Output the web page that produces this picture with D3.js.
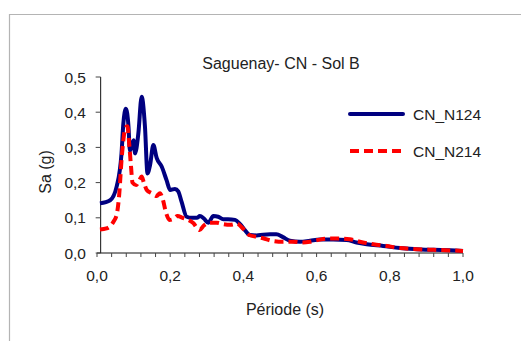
<!DOCTYPE html>
<html>
<head>
<meta charset="utf-8">
<script src="https://cdn.jsdelivr.net/npm/d3@7"></script>
<style>
    body { margin: 0; background: #fff; }
    svg text { font-family: "Liberation Sans", Arial, sans-serif; fill: #222; }
</style>
</head>
<body>
<svg id="chart" width="521" height="341"></svg>
<script>

// ---------------------------
// DATA
// ---------------------------

const title = "Saguenay- CN - Sol B";
const seriesNames = ["CN_N124", "CN_N214"];

// CN_N124 (solid navy)
const periodN124 = [0.008, 0.036, 0.054, 0.067, 0.072, 0.079, 0.086, 0.09, 0.1, 0.104, 0.113, 0.122, 0.131, 0.138, 0.145, 0.154, 0.163, 0.177, 0.19, 0.2, 0.213, 0.222, 0.231, 0.245, 0.259, 0.273, 0.281, 0.292, 0.304, 0.318, 0.331, 0.345, 0.358, 0.377, 0.391, 0.404, 0.418, 0.436, 0.454, 0.473, 0.49, 0.508, 0.527, 0.555, 0.582, 0.609, 0.645, 0.682, 0.709, 0.737, 0.782, 0.828, 0.874, 0.92, 0.965, 1.0];
const saN124 = [0.141, 0.15, 0.19, 0.283, 0.368, 0.41, 0.36, 0.29, 0.32, 0.283, 0.34, 0.444, 0.36, 0.226, 0.25, 0.307, 0.27, 0.245, 0.207, 0.179, 0.182, 0.175, 0.146, 0.103, 0.1, 0.1, 0.105, 0.098, 0.086, 0.105, 0.103, 0.096, 0.096, 0.094, 0.082, 0.065, 0.051, 0.05, 0.052, 0.053, 0.053, 0.045, 0.035, 0.032, 0.035, 0.038, 0.038, 0.037, 0.03, 0.025, 0.02, 0.014, 0.011, 0.009, 0.008, 0.006];

// CN_N214 (dashed red)
const periodN214 = [0.008, 0.026, 0.045, 0.054, 0.061, 0.067, 0.072, 0.077, 0.083, 0.088, 0.093, 0.097, 0.107, 0.116, 0.122, 0.128, 0.136, 0.149, 0.163, 0.172, 0.179, 0.189, 0.198, 0.209, 0.22, 0.234, 0.249, 0.263, 0.28, 0.292, 0.309, 0.327, 0.345, 0.363, 0.382, 0.4, 0.416, 0.436, 0.454, 0.477, 0.508, 0.536, 0.559, 0.582, 0.609, 0.636, 0.663, 0.691, 0.718, 0.755, 0.791, 0.828, 0.874, 0.92, 1.0];
const saN214 = [0.067, 0.07, 0.089, 0.11, 0.17, 0.264, 0.32, 0.354, 0.36, 0.31, 0.245, 0.2, 0.193, 0.207, 0.217, 0.2, 0.179, 0.17, 0.162, 0.17, 0.155, 0.113, 0.094, 0.097, 0.105, 0.1, 0.094, 0.085, 0.065, 0.078, 0.086, 0.086, 0.082, 0.08, 0.083, 0.068, 0.051, 0.046, 0.042, 0.035, 0.032, 0.032, 0.03, 0.032, 0.038, 0.041, 0.041, 0.039, 0.032, 0.025, 0.02, 0.014, 0.011, 0.009, 0.006];

const xTicks = d3.range(0, 26).map(i => i * 0.04);
const xLabels = [0, 0.2, 0.4, 0.6, 0.8, 1.0];
const yTicks = [0, 0.1, 0.2, 0.3, 0.4, 0.5];

// ---------------------------
// SETUP
// ---------------------------

const svg = d3.select("#chart");
const fmt = d => d3.format(".1f")(d).replace(".", ",");

// outer frame (cropped at right and bottom)
svg.append("path")
    .attr("d", "M9.5,341 V14.5 H521")
    .attr("fill", "none")
    .attr("stroke", "#b4b4b4")
    .attr("stroke-width", 1.2);

const xScale = d3.scaleLinear().domain([0, 1]).range([97, 463]);
const yScale = d3.scaleLinear().domain([0, 0.5]).range([253, 77]);

// x axis
const xAxisG = svg.append("g");
xAxisG.append("line")
    .attr("x1", xScale(0)).attr("x2", xScale(1))
    .attr("y1", yScale(0)).attr("y2", yScale(0))
    .attr("stroke", "#111").attr("stroke-width", 1);

xAxisG.selectAll(".xtick")
    .data(xTicks)
    .join("line")
    .attr("class", "xtick")
    .attr("x1", d => xScale(d)).attr("x2", d => xScale(d))
    .attr("y1", yScale(0)).attr("y2", yScale(0) + 4)
    .attr("stroke", "#444").attr("stroke-width", 1);

xAxisG.selectAll(".xlabel")
    .data(xLabels)
    .join("text")
    .attr("class", "xlabel")
    .attr("x", d => xScale(d))
    .attr("y", 281)
    .attr("text-anchor", "middle")
    .attr("font-size", "15.5px")
    .text(fmt);

// y axis (crosses at the first period)
const yAxisX = xScale(0.01);
const yAxisG = svg.append("g");
yAxisG.append("line")
    .attr("x1", yAxisX).attr("x2", yAxisX)
    .attr("y1", yScale(0.5)).attr("y2", yScale(0))
    .attr("stroke", "#111").attr("stroke-width", 1);

yAxisG.selectAll(".ytick")
    .data(yTicks)
    .join("line")
    .attr("class", "ytick")
    .attr("x1", yAxisX - 5).attr("x2", yAxisX)
    .attr("y1", d => yScale(d)).attr("y2", d => yScale(d))
    .attr("stroke", "#444").attr("stroke-width", 1);

yAxisG.selectAll(".ylabel")
    .data(yTicks)
    .join("text")
    .attr("class", "ylabel")
    .attr("x", 86)
    .attr("y", d => yScale(d) + 5.5)
    .attr("text-anchor", "end")
    .attr("font-size", "15.5px")
    .text(fmt);

// titles
svg.append("text")
    .attr("x", 281).attr("y", 69)
    .attr("text-anchor", "middle")
    .attr("font-size", "16px")
    .text(title);

svg.append("text")
    .attr("transform", "translate(51,172) rotate(-90)")
    .attr("text-anchor", "middle")
    .attr("font-size", "16px")
    .text("Sa (g)");

svg.append("text")
    .attr("x", 285).attr("y", 315)
    .attr("text-anchor", "middle")
    .attr("font-size", "16px")
    .text("Période (s)");

// ---------------------------
// LINES
// ---------------------------

const line = d3.line()
    .x(d => xScale(d[0]))
    .y(d => yScale(d[1]))
    .curve(d3.curveMonotoneX);

const series = [
    { name: seriesNames[0], data: d3.zip(periodN124, saN124), color: "#000080", dash: null },
    { name: seriesNames[1], data: d3.zip(periodN214, saN214), color: "#ff0000", dash: "9,5" }
];

svg.selectAll(".series")
    .data(series)
    .join("path")
    .attr("class", "series")
    .attr("d", d => line(d.data))
    .attr("fill", "none")
    .attr("stroke", d => d.color)
    .attr("stroke-width", 4)
    .attr("stroke-linejoin", "round")
    .attr("stroke-dasharray", d => d.dash);

// ---------------------------
// LEGEND
// ---------------------------

const legend = svg.selectAll(".legend")
    .data(series)
    .join("g")
    .attr("class", "legend")
    .attr("transform", (d, i) => `translate(350, ${114 + i * 37})`);

legend.append("line")
    .attr("x1", 0).attr("x2", 53)
    .attr("stroke", d => d.color)
    .attr("stroke-width", 4)
    .attr("stroke-linecap", d => d.dash ? "butt" : "round")
    .attr("stroke-dasharray", d => d.dash);

legend.append("text")
    .attr("x", 63).attr("y", 5.5)
    .attr("font-size", "15.5px")
    .text(d => d.name);

</script>
</body>
</html>
